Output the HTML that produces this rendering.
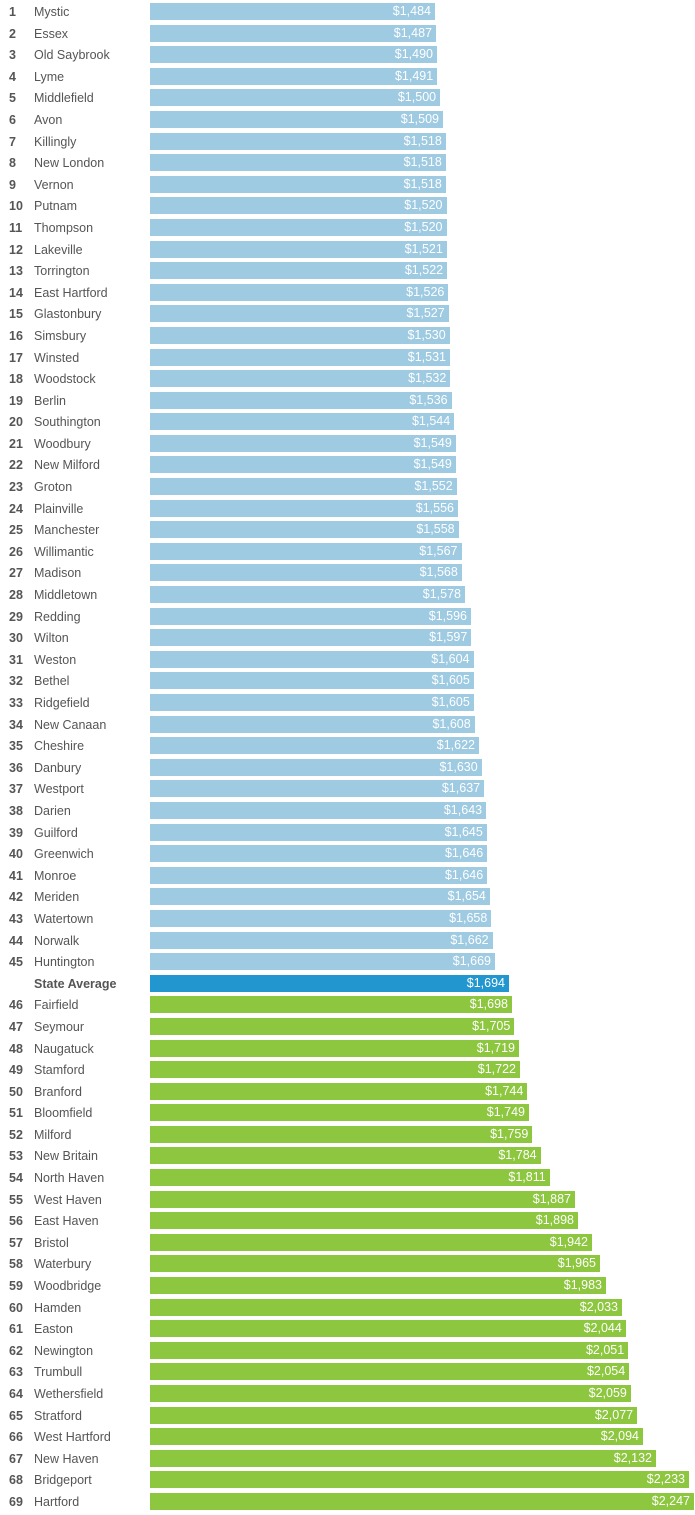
<!DOCTYPE html>
<html><head><meta charset="utf-8"><style>
body{margin:0;background:#fff;width:695px;height:1513px;overflow:hidden;font-family:"Liberation Sans",sans-serif}
#c{padding-top:3px}
.r{height:21.6px;position:relative}
.n{position:absolute;left:9px;top:1px;line-height:17px;font-size:12.5px;font-weight:bold;color:#555}
.t{position:absolute;left:34px;top:1px;line-height:17px;font-size:12.5px;color:#555}
.b{position:absolute;left:150px;top:0;height:17px;background:#9ecae2;color:#fff;font-size:12.5px;line-height:17px;text-align:right;box-sizing:border-box;padding-right:4px}
.g .b{background:#8dc63f}
.a .b{background:#2196cf}
.a .t{font-weight:bold}
</style></head><body><div id="c">
<div class="r"><span class="n">1</span><span class="t">Mystic</span><div class="b" style="width:285px">$1,484</div></div>
<div class="r"><span class="n">2</span><span class="t">Essex</span><div class="b" style="width:286px">$1,487</div></div>
<div class="r"><span class="n">3</span><span class="t">Old Saybrook</span><div class="b" style="width:287px">$1,490</div></div>
<div class="r"><span class="n">4</span><span class="t">Lyme</span><div class="b" style="width:287.2px">$1,491</div></div>
<div class="r"><span class="n">5</span><span class="t">Middlefield</span><div class="b" style="width:290.1px">$1,500</div></div>
<div class="r"><span class="n">6</span><span class="t">Avon</span><div class="b" style="width:293px">$1,509</div></div>
<div class="r"><span class="n">7</span><span class="t">Killingly</span><div class="b" style="width:295.8px">$1,518</div></div>
<div class="r"><span class="n">8</span><span class="t">New London</span><div class="b" style="width:295.8px">$1,518</div></div>
<div class="r"><span class="n">9</span><span class="t">Vernon</span><div class="b" style="width:295.8px">$1,518</div></div>
<div class="r"><span class="n">10</span><span class="t">Putnam</span><div class="b" style="width:296.5px">$1,520</div></div>
<div class="r"><span class="n">11</span><span class="t">Thompson</span><div class="b" style="width:296.5px">$1,520</div></div>
<div class="r"><span class="n">12</span><span class="t">Lakeville</span><div class="b" style="width:296.8px">$1,521</div></div>
<div class="r"><span class="n">13</span><span class="t">Torrington</span><div class="b" style="width:297.1px">$1,522</div></div>
<div class="r"><span class="n">14</span><span class="t">East Hartford</span><div class="b" style="width:298.4px">$1,526</div></div>
<div class="r"><span class="n">15</span><span class="t">Glastonbury</span><div class="b" style="width:298.7px">$1,527</div></div>
<div class="r"><span class="n">16</span><span class="t">Simsbury</span><div class="b" style="width:299.7px">$1,530</div></div>
<div class="r"><span class="n">17</span><span class="t">Winsted</span><div class="b" style="width:300px">$1,531</div></div>
<div class="r"><span class="n">18</span><span class="t">Woodstock</span><div class="b" style="width:300.3px">$1,532</div></div>
<div class="r"><span class="n">19</span><span class="t">Berlin</span><div class="b" style="width:301.6px">$1,536</div></div>
<div class="r"><span class="n">20</span><span class="t">Southington</span><div class="b" style="width:304.2px">$1,544</div></div>
<div class="r"><span class="n">21</span><span class="t">Woodbury</span><div class="b" style="width:305.8px">$1,549</div></div>
<div class="r"><span class="n">22</span><span class="t">New Milford</span><div class="b" style="width:305.8px">$1,549</div></div>
<div class="r"><span class="n">23</span><span class="t">Groton</span><div class="b" style="width:306.7px">$1,552</div></div>
<div class="r"><span class="n">24</span><span class="t">Plainville</span><div class="b" style="width:308px">$1,556</div></div>
<div class="r"><span class="n">25</span><span class="t">Manchester</span><div class="b" style="width:308.6px">$1,558</div></div>
<div class="r"><span class="n">26</span><span class="t">Willimantic</span><div class="b" style="width:311.5px">$1,567</div></div>
<div class="r"><span class="n">27</span><span class="t">Madison</span><div class="b" style="width:311.8px">$1,568</div></div>
<div class="r"><span class="n">28</span><span class="t">Middletown</span><div class="b" style="width:315px">$1,578</div></div>
<div class="r"><span class="n">29</span><span class="t">Redding</span><div class="b" style="width:321px">$1,596</div></div>
<div class="r"><span class="n">30</span><span class="t">Wilton</span><div class="b" style="width:321.3px">$1,597</div></div>
<div class="r"><span class="n">31</span><span class="t">Weston</span><div class="b" style="width:323.5px">$1,604</div></div>
<div class="r"><span class="n">32</span><span class="t">Bethel</span><div class="b" style="width:323.8px">$1,605</div></div>
<div class="r"><span class="n">33</span><span class="t">Ridgefield</span><div class="b" style="width:323.8px">$1,605</div></div>
<div class="r"><span class="n">34</span><span class="t">New Canaan</span><div class="b" style="width:324.7px">$1,608</div></div>
<div class="r"><span class="n">35</span><span class="t">Cheshire</span><div class="b" style="width:329px">$1,622</div></div>
<div class="r"><span class="n">36</span><span class="t">Danbury</span><div class="b" style="width:331.7px">$1,630</div></div>
<div class="r"><span class="n">37</span><span class="t">Westport</span><div class="b" style="width:334.1px">$1,637</div></div>
<div class="r"><span class="n">38</span><span class="t">Darien</span><div class="b" style="width:336.1px">$1,643</div></div>
<div class="r"><span class="n">39</span><span class="t">Guilford</span><div class="b" style="width:336.8px">$1,645</div></div>
<div class="r"><span class="n">40</span><span class="t">Greenwich</span><div class="b" style="width:337.2px">$1,646</div></div>
<div class="r"><span class="n">41</span><span class="t">Monroe</span><div class="b" style="width:337.2px">$1,646</div></div>
<div class="r"><span class="n">42</span><span class="t">Meriden</span><div class="b" style="width:339.9px">$1,654</div></div>
<div class="r"><span class="n">43</span><span class="t">Watertown</span><div class="b" style="width:341.3px">$1,658</div></div>
<div class="r"><span class="n">44</span><span class="t">Norwalk</span><div class="b" style="width:342.6px">$1,662</div></div>
<div class="r"><span class="n">45</span><span class="t">Huntington</span><div class="b" style="width:345px">$1,669</div></div>
<div class="r a"><span class="t">State Average</span><div class="b" style="width:359px">$1,694</div></div>
<div class="r g"><span class="n">46</span><span class="t">Fairfield</span><div class="b" style="width:362px">$1,698</div></div>
<div class="r g"><span class="n">47</span><span class="t">Seymour</span><div class="b" style="width:364.3px">$1,705</div></div>
<div class="r g"><span class="n">48</span><span class="t">Naugatuck</span><div class="b" style="width:369px">$1,719</div></div>
<div class="r g"><span class="n">49</span><span class="t">Stamford</span><div class="b" style="width:370px">$1,722</div></div>
<div class="r g"><span class="n">50</span><span class="t">Branford</span><div class="b" style="width:377.3px">$1,744</div></div>
<div class="r g"><span class="n">51</span><span class="t">Bloomfield</span><div class="b" style="width:379px">$1,749</div></div>
<div class="r g"><span class="n">52</span><span class="t">Milford</span><div class="b" style="width:382.3px">$1,759</div></div>
<div class="r g"><span class="n">53</span><span class="t">New Britain</span><div class="b" style="width:390.6px">$1,784</div></div>
<div class="r g"><span class="n">54</span><span class="t">North Haven</span><div class="b" style="width:399.7px">$1,811</div></div>
<div class="r g"><span class="n">55</span><span class="t">West Haven</span><div class="b" style="width:425px">$1,887</div></div>
<div class="r g"><span class="n">56</span><span class="t">East Haven</span><div class="b" style="width:428px">$1,898</div></div>
<div class="r g"><span class="n">57</span><span class="t">Bristol</span><div class="b" style="width:442px">$1,942</div></div>
<div class="r g"><span class="n">58</span><span class="t">Waterbury</span><div class="b" style="width:450px">$1,965</div></div>
<div class="r g"><span class="n">59</span><span class="t">Woodbridge</span><div class="b" style="width:456px">$1,983</div></div>
<div class="r g"><span class="n">60</span><span class="t">Hamden</span><div class="b" style="width:472px">$2,033</div></div>
<div class="r g"><span class="n">61</span><span class="t">Easton</span><div class="b" style="width:475.8px">$2,044</div></div>
<div class="r g"><span class="n">62</span><span class="t">Newington</span><div class="b" style="width:478.2px">$2,051</div></div>
<div class="r g"><span class="n">63</span><span class="t">Trumbull</span><div class="b" style="width:479.2px">$2,054</div></div>
<div class="r g"><span class="n">64</span><span class="t">Wethersfield</span><div class="b" style="width:480.9px">$2,059</div></div>
<div class="r g"><span class="n">65</span><span class="t">Stratford</span><div class="b" style="width:487.1px">$2,077</div></div>
<div class="r g"><span class="n">66</span><span class="t">West Hartford</span><div class="b" style="width:493px">$2,094</div></div>
<div class="r g"><span class="n">67</span><span class="t">New Haven</span><div class="b" style="width:506px">$2,132</div></div>
<div class="r g"><span class="n">68</span><span class="t">Bridgeport</span><div class="b" style="width:539px">$2,233</div></div>
<div class="r g"><span class="n">69</span><span class="t">Hartford</span><div class="b" style="width:544px">$2,247</div></div>
</div></body></html>
